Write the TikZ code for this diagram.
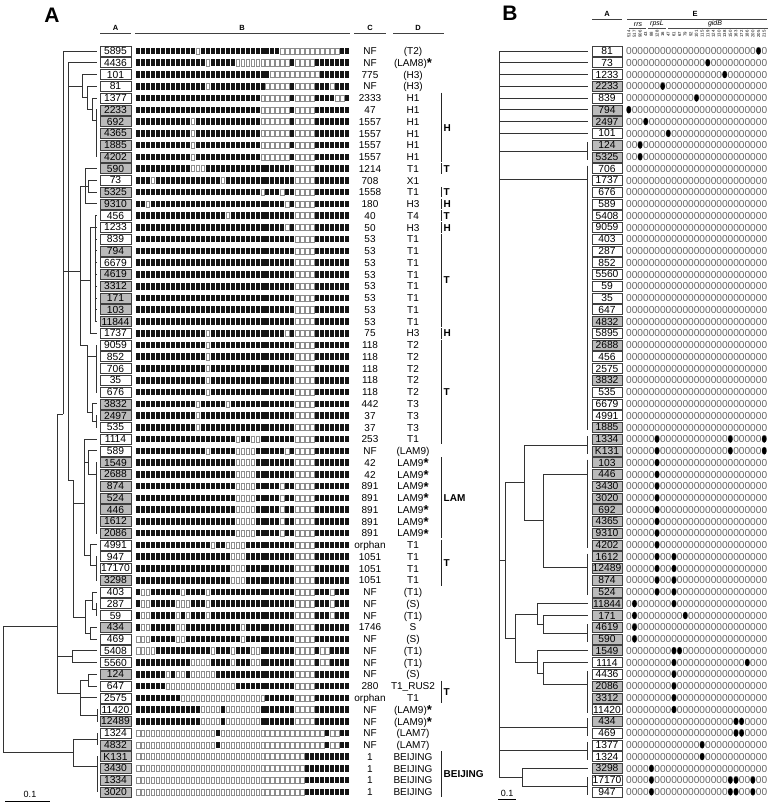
\documentclass[tikz,border=0pt]{standalone}
\usepackage{fontspec}
\setmainfont{Liberation Sans}
\makeatletter
\newcount\pidx
\def\pend{\pend}
\def\patrow#1#2{\pidx=0 \edef\patY{#1}\patloop#2\pend}
\def\patloop#1{\ifx#1\pend\else\patsq#1\expandafter\patloop\fi}
\def\patsq#1{\ifx#1.\else\advance\pidx by 1 \if1#1\fill[sqon] ({131.02+4.98*\the\pidx},\patY) rectangle +(4,6.6);\else\draw[sqoff] ({131.27+4.98*\the\pidx},{\patY+0.25}) rectangle +(3.5,6.1);\fi\fi}
\makeatother
\newcommand\YA[1]{51+(#1-1)*11.76}
\newcommand\st{\raisebox{-1.2pt}{\fontsize{13}{13}\selectfont\bfseries*}}
\newcommand\rA[6]{%
  \node[#3] (a#1) at (115.5,{\YA{#1}}) {#2};
  \pgfmathsetmacro\tmpy{\YA{#1}-3.3}\patrow{\tmpy}{#6}%
  \node[ctxt] at (370,{\YA{#1}+3.7}) {#4};
  \node[ctxt] at (413,{\YA{#1}+3.7}) {#5};}
\newcommand\rB[4]{%
  \node[#3] (b#1) at (607,{\YA{#1}}) {#2};
  \node[zeros] at (626,{\YA{#1}+3.7}) {0000000000000000000000000};
  \foreach \p in {#4}{\ifnum\p>0 \fill[black] ({623.18+5.64*\p},{\YA{#1}}) ellipse [x radius=2.3pt, y radius=3.7pt];\fi}}
\newcommand\lfA[2]{\draw[tl] (#1,{\YA{#2}}) -- ([xshift=-2.5pt]a#2.west);}
\newcommand\lfB[2]{\draw[tl] (#1,{\YA{#2}}) -- ([xshift=-3.5pt]b#2.west);}
\newcommand\vl[3]{\draw[tl] (#1,#2) -- (#1,#3);}
\newcommand\hl[3]{\draw[tl] (#1,#3) -- (#2,#3);}
\newcommand\brA[3]{\draw[tl] (#1,{\YA{#2}}) -- (#1,{\YA{#3}});\foreach \k in {#2,...,#3}{\draw[tl] (#1,{\YA{\k}}) -- ([xshift=-2.5pt]a\k.west);}}
\newcommand\brB[2]{\draw[tl] (587,{\YA{#1}-3}) -- (587,{\YA{#2}+3});}
\newcommand\famA[3]{\draw[fam] (441,{\YA{#1}-5.3}) -- (441,{\YA{#2}+5.3});
  \node[famlab] at (443.5,{(\YA{#1}+\YA{#2})/2+3.6}) {#3};}
\begin{document}
\begin{tikzpicture}[x=1pt,y=-1pt,
  tl/.style={line width=0.9pt, draw=black!80},
  idw/.style={draw=black!75, line width=0.6pt, fill=white, minimum width=31pt, minimum height=10pt, inner sep=0pt, font=\fontsize{10.3}{10.3}\selectfont},
  idg/.style={idw, fill=black!27},
  bw/.style={idw, minimum width=30pt},
  bg/.style={idg, minimum width=30pt},
  sqon/.style={fill=black!92},
  sqoff/.style={draw=black!45, line width=0.5pt},
  ctxt/.style={anchor=base, inner sep=0pt, font=\fontsize{10}{10}\selectfont},
  zeros/.style={anchor=base west, inner sep=0pt, text=black!60, font=\fontsize{10.14}{10}\selectfont},
  fam/.style={line width=0.8pt, draw=black!85},
  famlab/.style={anchor=base west, inner sep=0pt, font=\fontsize{10}{10}\selectfont\bfseries},
  hdr/.style={inner sep=0pt, font=\fontsize{7.5}{7.5}\selectfont\bfseries},
  panel/.style={inner sep=0pt, font=\fontsize{21}{21}\selectfont\bfseries},
  gene/.style={inner sep=0pt, font=\fontsize{7}{7}\selectfont\itshape},
  tinynum/.style={inner sep=0pt, rotate=90, font=\fontsize{4.3}{4.3}\selectfont}]
\useasboundingbox (0,0) rectangle (770,806);
% ---------------- Panel A ----------------
\node[panel] (PA) at (52,15) {A};
\node[hdr] (hA) at (115.5,28) {A};
\node[hdr] (hB) at (242,28) {B};
\node[hdr] (hC) at (370,28) {C};
\node[hdr] (hD) at (418,28) {D};
\draw[line width=0.7pt, black!75] (100,33.5) -- (131,33.5) (135,33.5) -- (350,33.5) (354,33.5) -- (386,33.5) (393,33.5) -- (444,33.5);
\rA{1}{5895}{idw}{NF}{(T2)}{1111111111.1101111111.1111111110.0000000000.011}
\rA{2}{4436}{idw}{NF}{(LAM8)\st}{1111111111.1111011111.0000000000.0100001111.111}
\rA{3}{101}{idw}{775}{(H3)}{1111111111.1111111111.1111111000.0000000111.111}
\rA{4}{81}{idw}{NF}{(H3)}{1111111111.1111011111.1111110000.0100001110.111}
\rA{5}{1377}{idw}{2333}{H1}{1111111111.1111111111.1111100000.0100001111.001}
\rA{6}{2233}{idg}{47}{H1}{1111111111.1111111111.1111100000.0100001111.111}
\rA{7}{692}{idg}{1557}{H1}{1111111111.1011111111.1111100000.0100001111.111}
\rA{8}{4365}{idg}{1557}{H1}{1111111111.1011111111.1111100000.0100001111.111}
\rA{9}{1885}{idg}{1557}{H1}{1111111111.1011111111.1111100000.0100001111.111}
\rA{10}{4202}{idg}{1557}{H1}{1111111111.1011111111.1111100000.0100001111.111}
\rA{11}{590}{idg}{1214}{T1}{1111111111.1000111111.1111111111.1100001111.111}
\rA{12}{73}{idw}{708}{X1}{1110111111.1111111011.1111111111.1100001111.111}
\rA{13}{5325}{idg}{1558}{T1}{1111111111.1111111111.1111101110.1100001111.111}
\rA{14}{9310}{idg}{180}{H3}{1101111111.1111111111.1111111111.0100001111.111}
\rA{15}{456}{idw}{40}{T4}{1111111111.1111111101.1111111111.1100001111.111}
\rA{16}{1233}{idw}{50}{H3}{1111111111.1111111111.1111111111.0100001111.111}
\rA{17}{839}{idw}{53}{T1}{1111111111.1111111111.1111111111.1100001111.111}
\rA{18}{794}{idg}{53}{T1}{1111111111.1111111111.1111111111.1100001111.111}
\rA{19}{6679}{idw}{53}{T1}{1111111111.1111111111.1111111111.1100001111.111}
\rA{20}{4619}{idg}{53}{T1}{1111111111.1111111111.1111111111.1100001111.111}
\rA{21}{3312}{idg}{53}{T1}{1111111111.1111111111.1111111111.1100001111.111}
\rA{22}{171}{idg}{53}{T1}{1111111111.1111111111.1111111111.1100001111.111}
\rA{23}{103}{idg}{53}{T1}{1111111111.1111111111.1111111111.1100001111.111}
\rA{24}{11844}{idg}{53}{T1}{1111111111.1111111111.1111111111.1100001111.111}
\rA{25}{1737}{idw}{75}{H3}{1111111111.1111011111.1111111111.0100001111.111}
\rA{26}{9059}{idw}{118}{T2}{1111111111.1111011111.1111111111.1100001111.111}
\rA{27}{852}{idw}{118}{T2}{1111111111.1111011111.1111111111.1100001111.111}
\rA{28}{706}{idw}{118}{T2}{1111111111.1111011111.1111111111.1100001111.111}
\rA{29}{35}{idw}{118}{T2}{1111111111.1111011111.1111111111.1100001111.111}
\rA{30}{676}{idw}{118}{T2}{1111111111.1111011111.1111111111.1100001111.111}
\rA{31}{3832}{idg}{442}{T3}{1111111111.1101111101.1111111111.1100001111.111}
\rA{32}{2497}{idg}{37}{T3}{1111111111.1101111111.1111111111.1100001111.111}
\rA{33}{535}{idw}{37}{T3}{1111111111.1101111111.1111111111.1100001111.111}
\rA{34}{1114}{idw}{253}{T1}{1111111111.1111111111.0110011111.1100001111.111}
\rA{35}{589}{idw}{NF}{(LAM9)}{1111111111.1111011111.0000111111.0100001111.111}
\rA{36}{1549}{idg}{42}{LAM9\st}{1111111111.1111111111.0000111111.1100001111.111}
\rA{37}{2688}{idg}{42}{LAM9\st}{1111111111.1111111111.0000111111.1100001111.111}
\rA{38}{874}{idg}{891}{LAM9\st}{1111111111.1111111111.0000111110.1100001111.111}
\rA{39}{524}{idg}{891}{LAM9\st}{1111111111.1111111111.0000111110.1100001111.111}
\rA{40}{446}{idg}{891}{LAM9\st}{1111111111.1111111111.0000111110.1100001111.111}
\rA{41}{1612}{idg}{891}{LAM9\st}{1111111111.1111111111.0000111110.1100001111.111}
\rA{42}{2086}{idg}{891}{LAM9\st}{1111111111.1111111111.0000111110.1100001111.111}
\rA{43}{4991}{idw}{orphan}{T1}{1111111111.1111101100.0011111111.1100001111.111}
\rA{44}{947}{idw}{1051}{T1}{1111111111.1111111110.0011111111.1100001111.111}
\rA{45}{17170}{idw}{1051}{T1}{1111111111.1111111110.0011111111.1100001111.111}
\rA{46}{3298}{idg}{1051}{T1}{1111111111.1111111110.0011111111.1100001111.111}
\rA{47}{403}{idw}{NF}{(T1)}{1001111110.1111011111.1111111111.1100001110.111}
\rA{48}{287}{idw}{NF}{(S)}{1001111100.0111011111.1111111111.1100001110.111}
\rA{49}{59}{idw}{NF}{(T1)}{1001111101.0111011111.1111111111.1100001110.111}
\rA{50}{434}{idg}{1746}{S}{1001111100.1111111111.1011111111.1100001111.111}
\rA{51}{469}{idw}{NF}{(S)}{0001111100.1111111111.1011111111.1100001111.111}
\rA{52}{5408}{idw}{NF}{(T1)}{0000111111.1111101110.1110011111.1100001001.111}
\rA{53}{5560}{idw}{NF}{(T1)}{1111111111.1000011110.1110011111.1100001001.111}
\rA{54}{124}{idg}{NF}{(S)}{1111110100.1000001111.1111111111.1100001111.111}
\rA{55}{647}{idw}{280}{T1\_RUS2}{1111110000.0000000000.1111111111.1100001111.111}
\rA{56}{2575}{idw}{orphan}{T1}{1111111110.0000000000.0000001111.1100001111.111}
\rA{57}{11420}{idw}{NF}{(LAM9)\st}{1111111111.1110000100.0000011111.1100001111.111}
\rA{58}{12489}{idg}{NF}{(LAM9)\st}{1111111111.1110000100.0000011111.1100001111.111}
\rA{59}{1324}{idw}{NF}{(LAM7)}{0000000000.0000001000.0000000000.0000000010.011}
\rA{60}{4832}{idg}{NF}{(LAM7)}{0000000000.0000001000.0000000000.0000000010.011}
\rA{61}{K131}{idg}{1}{BEIJING}{0000000000.0000000000.0000000000.0000111111.111}
\rA{62}{3430}{idg}{1}{BEIJING}{0000000000.0000000000.0000000000.0000111111.111}
\rA{63}{1334}{idg}{1}{BEIJING}{0000000000.0000000000.0000000000.0000111111.111}
\rA{64}{3020}{idg}{1}{BEIJING}{0000000000.0000000000.0000000000.0000111111.111}
% family brackets
\famA{5}{10}{H}\famA{11}{11}{T}\famA{13}{13}{T}\famA{14}{14}{H}\famA{15}{15}{T}\famA{16}{16}{H}
\famA{17}{24}{T}\famA{25}{25}{H}\famA{26}{34}{T}\famA{36}{42}{LAM}\famA{43}{46}{T}\famA{55}{56}{T}
\famA{61}{64}{BEIJING}
% tree A (upper)
\brA{96}{6}{10}
\lfA{92}{5}\vl{92}{98.04}{120.78}\hl{92}{96}{120.78}
\lfA{87}{4}\vl{87}{86.28}{109.41}\hl{87}{92}{109.41}
\lfA{82}{3}\vl{82}{74.52}{97.85}\hl{82}{87}{97.85}
\lfA{68}{2}\vl{68}{62.76}{480}\hl{68}{82}{86.18}
\lfA{88}{12}\lfA{88}{13}\vl{88}{180.36}{192.12}
\lfA{85}{11}\lfA{85}{14}\vl{85}{168.6}{203.88}\hl{85}{88}{186.24}
\brA{95}{15}{24}
\vl{90}{227.4}{333.24}\hl{90}{95}{227.4}\lfA{90}{25}
\vl{80}{186.24}{345}\hl{80}{85}{186.24}\hl{80}{90}{280.3}
\hl{63}{80}{271.1}
\brA{96}{26}{30}
\brA{96}{32}{33}
\lfA{92}{31}\vl{92}{403.8}{421.44}\hl{92}{96}{421.44}
\vl{87}{345}{412.62}\hl{80}{87}{345}\hl{87}{96}{356}\hl{87}{92}{412.62}
\brA{96}{36}{42}
\lfA{88}{35}\vl{88}{450.84}{474.2}\hl{88}{96}{474.2}
\lfA{84}{34}\vl{84}{439.08}{555.2}\hl{84}{88}{462.5}
\brA{96}{44}{46}
\lfA{90}{43}\vl{90}{544.92}{565.5}\hl{90}{96}{565.5}\hl{84}{90}{555.2}
\lfA{63}{1}\vl{63}{51}{414}
\hl{68}{73}{480}\vl{73}{480}{617}\hl{73}{84}{503}
% tree A (lower)
\brA{96}{48}{49}
\lfA{92}{47}\vl{92}{591.96}{609.6}\hl{92}{96}{609.6}
\lfA{90}{50}\lfA{90}{51}\vl{90}{627.24}{639}
\vl{85}{600.78}{633.12}\hl{85}{92}{600.78}\hl{85}{90}{633.12}\hl{73}{85}{616.95}
\lfA{72}{52}\lfA{72}{53}\vl{72}{650.76}{662.52}\hl{57}{72}{656.64}
\lfA{88}{54}\lfA{88}{55}\vl{88}{674.28}{686.04}
\brA{97}{57}{58}
\lfA{80}{56}\vl{80}{680.16}{715.44}\hl{80}{88}{680.16}\hl{80}{97}{715.44}
\vl{57}{414}{693.4}\hl{57}{63}{414}\hl{57}{80}{693.4}
\brA{97}{59}{60}\brA{97}{61}{64}
\vl{73}{738.96}{766.9}\hl{73}{97}{738.96}\hl{73}{97}{766.9}
\vl{3}{626}{752.9}\hl{3}{57}{626}\hl{3}{73}{752.9}
% scale bar A
\node[inner sep=0pt, font=\fontsize{9}{9}\selectfont] (sA) at (30,794) {0.1};
\draw[line width=0.8pt] (5,801.5) -- (50,801.5);
% ---------------- Panel B ----------------
\node[panel] (PB) at (510,13) {B};
\node[hdr] (hbA) at (607,14) {A};
\node[hdr] (hbE) at (695,14) {E};
\draw[line width=0.7pt, black!75] (592,19.5) -- (622,19.5) (627,19.5) -- (767,19.5);
\node[gene] (g1) at (638,25) {rrs};
\node[gene] (g2) at (657,24) {rpsL};
\node[gene] (g3) at (715,24) {gidB};
\draw[line width=0.5pt, black!70] (629,28.5) -- (646,28.5) (648,28.5) -- (666,28.5) (668,28.5) -- (768,28.5);
\foreach \n [count=\i] in {514,517,906,43,88,128,16,47,61,67,79,92,101,115,119,124,130,138,150,163,172,186,200,205,215}
  \node[tinynum] at ({623.18+5.64*\i},34) {\n};
\rB{1}{81}{bw}{24}
\rB{2}{73}{bw}{15}
\rB{3}{1233}{bw}{18}
\rB{4}{2233}{bg}{7}
\rB{5}{839}{bw}{13}
\rB{6}{794}{bg}{1}
\rB{7}{2497}{bg}{4}
\rB{8}{101}{bw}{8}
\rB{9}{124}{bg}{3}
\rB{10}{5325}{bg}{3}
\rB{11}{706}{bw}{0}
\rB{12}{1737}{bw}{0}
\rB{13}{676}{bw}{0}
\rB{14}{589}{bw}{0}
\rB{15}{5408}{bw}{0}
\rB{16}{9059}{bw}{0}
\rB{17}{403}{bw}{0}
\rB{18}{287}{bw}{0}
\rB{19}{852}{bw}{0}
\rB{20}{5560}{bw}{0}
\rB{21}{59}{bw}{0}
\rB{22}{35}{bw}{0}
\rB{23}{647}{bw}{0}
\rB{24}{4832}{bg}{0}
\rB{25}{5895}{bw}{0}
\rB{26}{2688}{bg}{0}
\rB{27}{456}{bw}{0}
\rB{28}{2575}{bw}{0}
\rB{29}{3832}{bg}{0}
\rB{30}{535}{bw}{0}
\rB{31}{6679}{bw}{0}
\rB{32}{4991}{bw}{0}
\rB{33}{1885}{bg}{0}
\rB{34}{1334}{bg}{6,19,25}
\rB{35}{K131}{bg}{6,19,25}
\rB{36}{103}{bg}{6}
\rB{37}{446}{bg}{6}
\rB{38}{3430}{bg}{6}
\rB{39}{3020}{bg}{6}
\rB{40}{692}{bg}{6}
\rB{41}{4365}{bg}{6}
\rB{42}{9310}{bg}{6}
\rB{43}{4202}{bg}{6}
\rB{44}{1612}{bg}{6,9}
\rB{45}{12489}{bg}{6,9}
\rB{46}{874}{bg}{6,9}
\rB{47}{524}{bg}{6,9}
\rB{48}{11844}{bg}{2,9}
\rB{49}{171}{bg}{2,11}
\rB{50}{4619}{bg}{2}
\rB{51}{590}{bg}{2}
\rB{52}{1549}{bg}{9,10}
\rB{53}{1114}{bw}{9,22}
\rB{54}{4436}{bw}{9}
\rB{55}{2086}{bg}{9}
\rB{56}{3312}{bg}{9}
\rB{57}{11420}{bw}{9}
\rB{58}{434}{bg}{20,21}
\rB{59}{469}{bw}{20,21}
\rB{60}{1377}{bw}{14}
\rB{61}{1324}{bw}{14}
\rB{62}{3298}{bg}{5}
\rB{63}{17170}{bw}{5,19,20,23}
\rB{64}{947}{bw}{5,19,20,23}
% tree B
\vl{499}{51}{777.2}
\foreach \k in {1,...,8}{\lfB{499}{\k}}
\brB{9}{10}\hl{499}{587}{151}
\brB{11}{33}\hl{499}{587}{179.5}
\hl{499}{505}{560.4}\vl{505}{482.8}{638.1}
\hl{505}{524}{482.8}\vl{524}{445}{520.6}
\brB{34}{35}\hl{524}{587}{445}
\hl{524}{543}{520.6}\vl{543}{474.3}{567}
\brB{36}{43}\hl{543}{587}{474.3}
\brB{44}{47}\hl{543}{587}{567}
\hl{505}{515}{638.1}\vl{515}{614}{662.2}
\hl{515}{537}{614}\vl{537}{603.72}{624.3}\lfB{537}{48}
\hl{537}{543}{624.3}\vl{543}{615.48}{633.12}\lfB{543}{49}
\brB{50}{51}\hl{543}{587}{633.12}
\hl{515}{537}{662.2}\vl{537}{650.76}{673.6}\lfB{537}{52}
\hl{537}{543}{673.6}\vl{543}{662.52}{684.6}\lfB{543}{53}
\brB{54}{57}\hl{543}{587}{684.6}
\brB{58}{59}\hl{499}{587}{727.2}
\brB{60}{61}\hl{499}{587}{750.7}
\hl{499}{522}{777.2}\vl{522}{768.36}{786}\lfB{522}{62}
\brB{63}{64}\hl{522}{587}{786}
% scale bar B
\node[inner sep=0pt, font=\fontsize{9}{9}\selectfont] (sB) at (507,793) {0.1};
\draw[line width=0.8pt] (498,799.5) -- (516,799.5);
\end{tikzpicture}
\end{document}
